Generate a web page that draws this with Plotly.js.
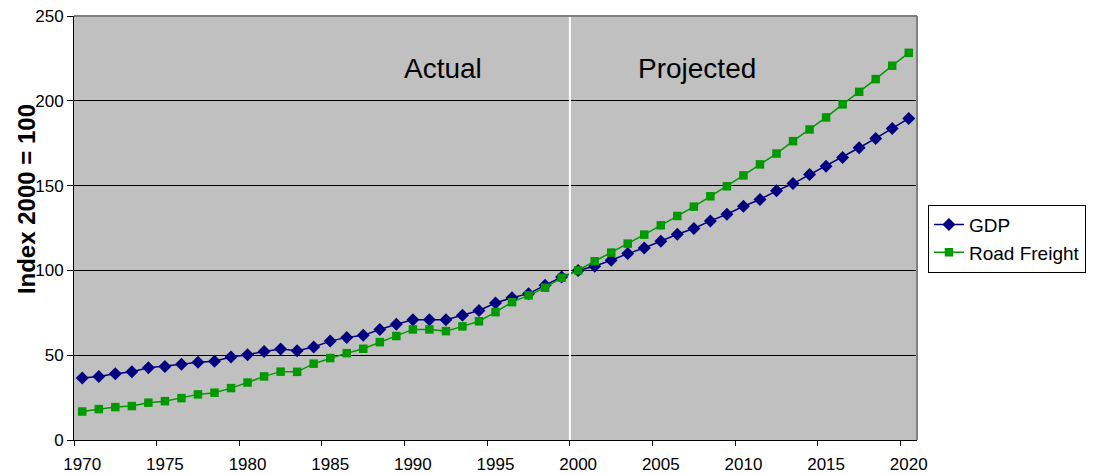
<!DOCTYPE html>
<html>
<head>
<meta charset="utf-8">
<script src="https://cdn.plot.ly/plotly-3.0.1.min.js"></script>
<style>html,body{margin:0;padding:0;background:#fff;}#chart{width:1104px;height:475px;}</style>
</head>
<body>
<div id="chart"></div>
<script>
const years = [1970,1971,1972,1973,1974,1975,1976,1977,1978,1979,
               1980,1981,1982,1983,1984,1985,1986,1987,1988,1989,
               1990,1991,1992,1993,1994,1995,1996,1997,1998,1999,
               2000,2001,2002,2003,2004,2005,2006,2007,2008,2009,
               2010,2011,2012,2013,2014,2015,2016,2017,2018,2019,2020];
const gdp = [36.5,37.5,39.1,40.3,42.6,43.4,44.6,45.9,46.5,48.9,
             50.3,52.2,53.6,52.6,54.8,58.3,60.5,61.7,65.2,68.2,
             70.9,70.9,70.9,73.5,76.4,80.8,83.9,86.3,91.2,96.1,
             100,102.5,106.0,109.9,113.2,117.2,121.3,124.7,129.2,133.1,
             137.8,141.8,146.9,151.2,156.5,161.4,166.6,172.3,177.8,183.7,189.6];
const roadFreight = [16.8,18.2,19.4,20.0,22.0,22.9,24.7,26.9,27.9,30.6,
                     33.9,37.5,40.3,40.2,45.0,48.3,51.2,53.8,57.7,61.3,
                     65.2,65.2,64.2,67.0,70.0,75.4,81.3,85.3,89.8,95.7,
                     100,105.4,110.5,115.8,121.1,126.6,132.1,137.6,143.7,149.6,
                     156.0,162.5,168.9,176.2,183.1,190.2,197.9,205.3,212.8,220.7,228.3];
const xTickYears = [1970,1975,1980,1985,1990,1995,2000,2005,2010,2015,2020];
const xTickLabels = ['1970','1975','1980','1985','1990','1995','2000','2005','2010','2015','2020'];
const yTicks = [0,50,100,150,200,250];
const seriesNames = ['GDP','Road Freight'];
const periodLabels = ['Actual','Projected'];
const yAxisTitle = 'Index 2000 = 100';
const projectionStart = 2000;

const boundaries = xTickYears.map(y => y - 0.5);

const font = {family: 'Liberation Sans, Arial, sans-serif', color: '#000'};

const traces = [
  {x: years, y: gdp, name: seriesNames[0], type: 'scatter', mode: 'lines+markers',
   line: {color: '#000080', width: 1.5},
   marker: {symbol: 'diamond', size: 10, color: '#000080'}},
  {x: years, y: roadFreight, name: seriesNames[1], type: 'scatter', mode: 'lines+markers',
   line: {color: '#009a00', width: 1.5},
   marker: {symbol: 'square', size: 8.5, color: '#009a00'}},
  {x: [years[0]], y: [null], xaxis: 'x2', showlegend: false, hoverinfo: 'skip', mode: 'markers'}
];

const xr = [years[0] - 0.5, years[years.length - 1] + 0.5];

const layout = {
  width: 1104, height: 475,
  margin: {l: 74, r: 187, t: 16, b: 35},
  paper_bgcolor: '#ffffff',
  plot_bgcolor: '#c0c0c0',
  font: Object.assign({size: 17}, font),
  showlegend: true,
  legend: {x: 1.013, y: 0.555, xanchor: 'left', yanchor: 'top',
           bordercolor: '#000', borderwidth: 1, bgcolor: '#fff',
           font: Object.assign({size: 19}, font), tracegroupgap: 0,
           itemwidth: 30},
  xaxis: {range: xr, tickmode: 'array', tickvals: xTickYears, ticktext: xTickLabels,
          ticks: '', showgrid: false, zeroline: false,
          showline: true, linecolor: '#000', linewidth: 1,
          tickfont: Object.assign({size: 17}, font), ticklabelstandoff: 9},
  xaxis2: {range: xr, overlaying: 'x', tickmode: 'array', tickvals: boundaries,
           ticks: 'outside', ticklen: 5, tickcolor: '#000', showticklabels: false,
           showgrid: false, zeroline: false, showline: false},
  yaxis: {range: [0, 250], tickmode: 'array', tickvals: yTicks,
          ticks: 'outside', ticklen: 6, tickcolor: '#000',
          showgrid: true, gridcolor: '#000', gridwidth: 1, zeroline: false,
          showline: true, linecolor: '#000', linewidth: 1,
          tickfont: Object.assign({size: 17}, font), ticklabelstandoff: 0},
  shapes: [
    {type: 'line', xref: 'x', yref: 'paper', x0: projectionStart - 0.5, x1: projectionStart - 0.5,
     y0: 0, y1: 1, line: {color: '#ffffff', width: 2}, layer: 'above'},
    {type: 'line', xref: 'paper', yref: 'paper', x0: 0, x1: 1, y0: 1, y1: 1,
     line: {color: '#808080', width: 2}, layer: 'above'},
    {type: 'line', xref: 'paper', yref: 'paper', x0: 1, x1: 1, y0: 0, y1: 1,
     line: {color: '#808080', width: 2}, layer: 'above'}
  ],
  annotations: [
    {text: periodLabels[0], xref: 'x', yref: 'y', x: 1991.8, y: 219, showarrow: false,
     font: Object.assign({size: 28}, font)},
    {text: periodLabels[1], xref: 'x', yref: 'y', x: 2007.2, y: 219, showarrow: false,
     font: Object.assign({size: 28}, font)},
    {text: '<b>' + yAxisTitle + '</b>', xref: 'paper', yref: 'paper', x: -0.057, y: 0.568,
     xanchor: 'center', yanchor: 'middle', textangle: -90, showarrow: false,
     font: Object.assign({size: 24}, font)}
  ]
};

Plotly.newPlot('chart', traces, layout, {displayModeBar: false, staticPlot: true});
</script>
</body>
</html>
